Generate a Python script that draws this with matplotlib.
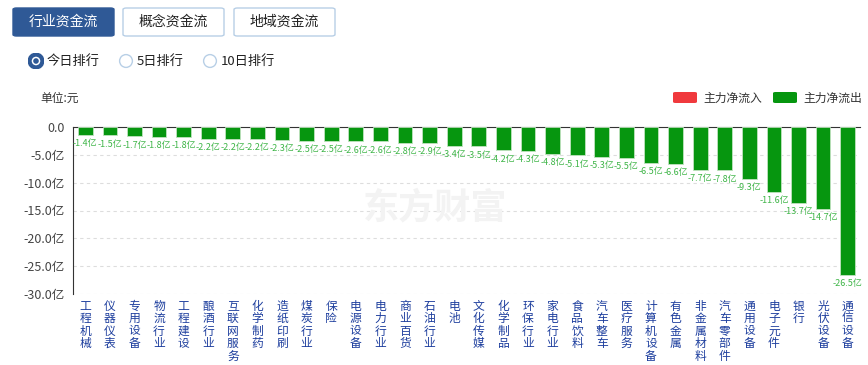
import matplotlib
matplotlib.use("Agg")
import matplotlib.pyplot as plt
from matplotlib.patches import FancyBboxPatch, Circle

plt.rcParams['font.family'] = ['Noto Sans CJK SC', 'DejaVu Sans']

industries = ["工程机械", "仪器仪表", "专用设备", "物流行业", "工程建设", "酿酒行业",
              "互联网服务", "化学制药", "造纸印刷", "煤炭行业", "保险", "电源设备",
              "电力行业", "商业百货", "石油行业", "电池", "文化传媒", "化学制品",
              "环保行业", "家电行业", "食品饮料", "汽车整车", "医疗服务", "计算机设备",
              "有色金属", "非金属材料", "汽车零部件", "通用设备", "电子元件", "银行",
              "光伏设备", "通信设备"]
net_flow = [-1.4, -1.5, -1.7, -1.8, -1.8, -2.2, -2.2, -2.2, -2.3, -2.5, -2.5, -2.6,
            -2.6, -2.8, -2.9, -3.4, -3.5, -4.2, -4.3, -4.8, -5.1, -5.3, -5.5, -6.5,
            -6.6, -7.7, -7.8, -9.3, -11.6, -13.7, -14.7, -26.5]
y_ticks = [0, -5, -10, -15, -20, -25, -30]
tabs = ["行业资金流", "概念资金流", "地域资金流"]
ranks = ["今日排行", "5日排行", "10日排行"]

W, H = 868, 365
fig = plt.figure(figsize=(W / 100, H / 100), dpi=100)

def fx(px):
    return px / W

def fy(py):
    return 1 - py / H

green = "#06960f"
label_green = "#3fb548"
blue = "#2f5996"

# chart area
ax = fig.add_axes([fx(73), fy(294), fx(860) - fx(73), fy(127) - fy(294)])
x = list(range(len(industries)))
ax.bar(x, net_flow, width=0.6, color=green, edgecolor="#bfe3bf", linewidth=0.6, zorder=3)
for xi, v in zip(x, net_flow):
    ax.annotate(f"{v}亿", (xi, v), xytext=(0, -3), textcoords="offset points",
                ha="center", va="top", fontsize=6.5, color=label_green, zorder=4)
ax.set_xlim(-0.5, len(industries) - 0.5)
ax.set_ylim(-30, 0)
ax.set_yticks(y_ticks)
ax.set_yticklabels(["0.0"] + [f"{t:.1f}亿" for t in y_ticks[1:]], fontsize=9, color="#444444")
ax.set_xticks(x)
ax.set_xticklabels(["\n".join(s) for s in industries], fontsize=8.5, color="#1e3f9e",
                   va="top", linespacing=0.95)
ax.tick_params(axis="both", length=0, pad=4)
ax.tick_params(axis="y", pad=6)
ax.grid(axis="y", color="#dddddd", linestyle=(0, (3, 3)), linewidth=0.8, zorder=0)
for s in ["right", "bottom"]:
    ax.spines[s].set_visible(False)
ax.spines["left"].set_color("#333333")
ax.spines["top"].set_color("#333333")

# watermark
fig.text(fx(435), fy(208), "东方财富", fontsize=26, color="#f3f3f3", ha="center",
         va="center", fontweight="bold", zorder=0)

# tabs
tab_x = [13, 123, 234]
for i, (tx, name) in enumerate(zip(tab_x, tabs)):
    active = i == 0
    box = FancyBboxPatch((fx(tx), fy(36)), fx(101), fy(8) - fy(36),
                         boxstyle="round,pad=0,rounding_size=0.004",
                         transform=fig.transFigure, facecolor=blue if active else "white",
                         edgecolor=blue if active else "#b8cfe6", linewidth=1)
    fig.add_artist(box)
    fig.text(fx(tx + 50.5), fy(22), name, ha="center", va="center", fontsize=10,
             color="white" if active else "#222222")

# radio buttons
radio_x = [36, 126, 210]
for i, (rx, name) in enumerate(zip(radio_x, ranks)):
    ax_r = fig.add_axes([fx(rx - 8), fy(69), fx(16), fy(53) - fy(69)])
    ax_r.set_xlim(-1, 1)
    ax_r.set_ylim(-1, 1)
    ax_r.set_aspect("equal")
    ax_r.axis("off")
    if i == 0:
        ax_r.add_patch(Circle((0, 0), 0.8, facecolor="white", edgecolor=blue, linewidth=3))
        ax_r.add_patch(Circle((0, 0), 0.35, facecolor=blue, edgecolor="none"))
    else:
        ax_r.add_patch(Circle((0, 0), 0.8, facecolor="white", edgecolor="#b8cfe6", linewidth=1))
    fig.text(fx(rx + 11), fy(61), name, ha="left", va="center", fontsize=9.5, color="#222222")

# unit and legend
fig.text(fx(40), fy(98), "单位:元", ha="left", va="center", fontsize=8.5, color="#333333")
for lx, c, name in [(673, "#f0393d", "主力净流入"), (773, green, "主力净流出")]:
    fig.add_artist(FancyBboxPatch((fx(lx), fy(103)), fx(24), fy(92) - fy(103),
                                  boxstyle="round,pad=0,rounding_size=0.003",
                                  transform=fig.transFigure, facecolor=c, edgecolor="none"))
    fig.text(fx(lx + 30), fy(98), name, ha="left", va="center", fontsize=8.5, color="#333333")

fig.savefig("out.png", dpi=100)
